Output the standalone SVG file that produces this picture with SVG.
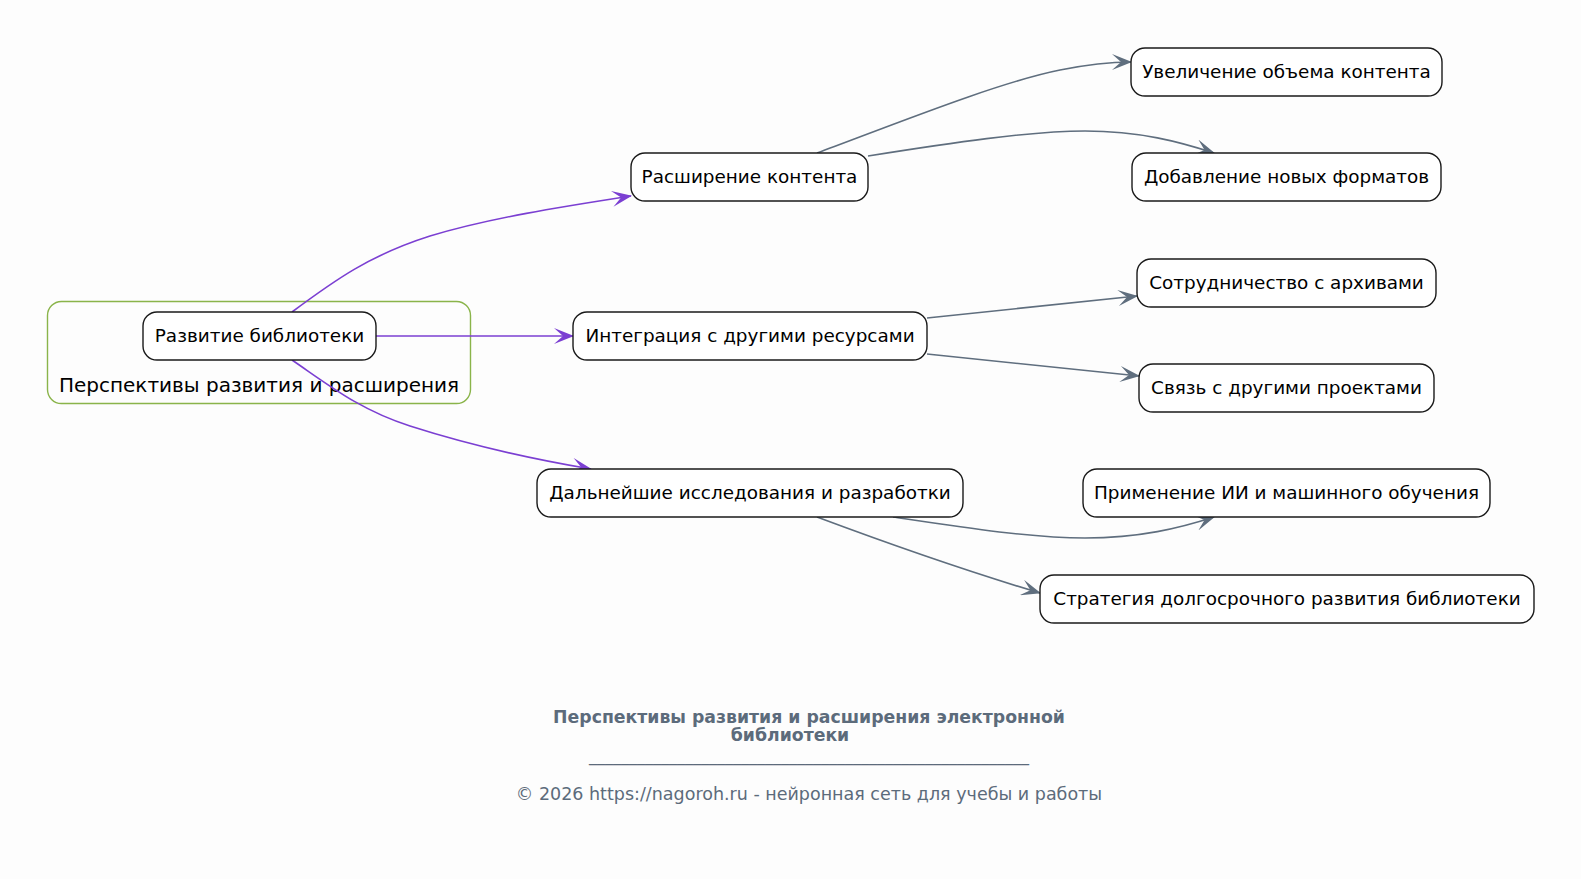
<svg xmlns="http://www.w3.org/2000/svg" width="1581" height="879" viewBox="0 0 1581 879">
<defs>
<style>
.node rect{fill:#ffffff;stroke:#1a1a1a;stroke-width:1.4}
.node text{font-family:"DejaVu Sans",sans-serif;font-size:18.4px;fill:#000;text-anchor:middle}
.edge{fill:none;stroke-width:1.6}
.main{stroke:#7b3fd2;marker-end:url(#ap)}
.sub{stroke:#5f6e7e;marker-end:url(#ag)}
.foot{font-family:"DejaVu Sans",sans-serif;fill:#5c6b7b;text-anchor:middle}
</style>
<marker id="ap" markerWidth="20" markerHeight="16" refX="19" refY="8" orient="auto" markerUnits="userSpaceOnUse"><path d="M0,0 L20,8 L0,16 L9,8 Z" fill="#7b3fd2"/></marker>
<marker id="ag" markerWidth="20" markerHeight="16" refX="19" refY="8" orient="auto" markerUnits="userSpaceOnUse"><path d="M0,0 L20,8 L0,16 L9,8 Z" fill="#5f6e7e"/></marker>
</defs>
<rect width="1581" height="879" fill="#fdfdfd"/>
<g id="cluster">
<rect x="47.5" y="301.5" width="423" height="102" rx="14" fill="none" stroke="#8ab44a" stroke-width="1.4"/>
<text x="259" y="391.5" font-family="DejaVu Sans, sans-serif" font-size="20" text-anchor="middle" fill="#000">Перспективы развития и расширения</text>
</g>
<g id="connectors">
<path class="edge main" d="M292,312 C335,280 370,255 430,236 C490,218 560,207 631,196"/>
<path class="edge main" d="M376,336 L573,336"/>
<path class="edge main" d="M292,360 C330,386 360,410 410,426 C460,442 520,457 591,469"/>
<path class="edge sub" d="M817,153 C900,122 1000,82 1060,70 C1090,64 1110,62 1131,62"/>
<path class="edge sub" d="M868,156 C950,143 1030,131 1085,131 C1140,131 1180,142 1214,153"/>
<path class="edge sub" d="M927,318 L1137,296"/>
<path class="edge sub" d="M927,354 L1139,376"/>
<path class="edge sub" d="M893,517 C960,527 1030,538 1085,538 C1140,538 1180,528 1214,517"/>
<path class="edge sub" d="M817,517 C900,548 990,578 1040,593"/>
</g>
<g id="n1" class="node"><rect x="143" y="312" width="233" height="48" rx="14"/><text x="259.5" y="342">Развитие библиотеки</text></g>
<g id="n2" class="node"><rect x="631" y="153" width="237" height="48" rx="14"/><text x="749.5" y="183">Расширение контента</text></g>
<g id="n3" class="node"><rect x="573" y="312" width="354" height="48" rx="14"/><text x="750" y="342">Интеграция с другими ресурсами</text></g>
<g id="n4" class="node"><rect x="537" y="469" width="426" height="48" rx="14"/><text x="750" y="499">Дальнейшие исследования и разработки</text></g>
<g id="n5" class="node"><rect x="1131" y="48" width="311" height="48" rx="14"/><text x="1286.5" y="78">Увеличение объема контента</text></g>
<g id="n6" class="node"><rect x="1132" y="153" width="309" height="48" rx="14"/><text x="1286.5" y="183">Добавление новых форматов</text></g>
<g id="n7" class="node"><rect x="1137" y="259" width="299" height="48" rx="14"/><text x="1286.5" y="289">Сотрудничество с архивами</text></g>
<g id="n8" class="node"><rect x="1139" y="364" width="295" height="48" rx="14"/><text x="1286.5" y="394">Связь с другими проектами</text></g>
<g id="n9" class="node"><rect x="1083" y="469" width="407" height="48" rx="14"/><text x="1286.5" y="499">Применение ИИ и машинного обучения</text></g>
<g id="n10" class="node"><rect x="1040" y="575" width="494" height="48" rx="14"/><text x="1287" y="605">Стратегия долгосрочного развития библиотеки</text></g>
<g id="footer">
<text class="foot" x="809" y="723" font-size="17.3" font-weight="bold">Перспективы развития и расширения электронной</text>
<text class="foot" x="790" y="741" font-size="17.3" font-weight="bold">библиотеки</text>
<text class="foot" x="809" y="761" font-size="16">_______________________________________________________</text>
<text class="foot" x="809" y="800" font-size="17.5">© 2026 https://nagoroh.ru - нейронная сеть для учебы и работы</text>
</g>
</svg>
